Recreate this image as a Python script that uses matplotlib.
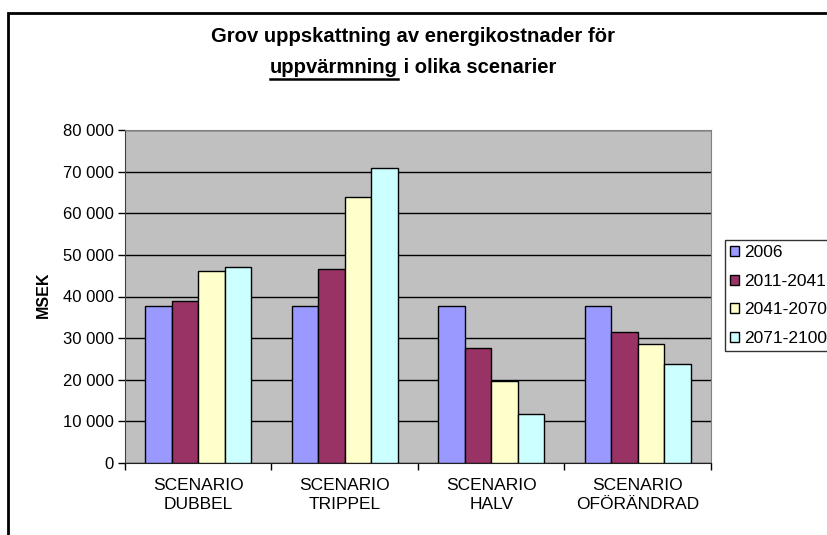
import matplotlib
matplotlib.use("Agg")
import matplotlib.pyplot as plt
import numpy as np
from matplotlib.patches import Rectangle
from matplotlib.lines import Line2D
from matplotlib.ticker import FuncFormatter

plt.rcParams['font.family'] = ['Liberation Sans', 'DejaVu Sans']

# data (MSEK)
scenarios = ['SCENARIO\nDUBBEL', 'SCENARIO\nTRIPPEL', 'SCENARIO\nHALV', 'SCENARIO\nOFÖRÄNDRAD']
periods = ['2006', '2011-2041', '2041-2070', '2071-2100']
v2006 = [37600, 37600, 37600, 37600]
v2011 = [38900, 46500, 27700, 31400]
v2041 = [46200, 64000, 19700, 28700]
v2071 = [47200, 70900, 11800, 23700]
colors = ['#9999FF', '#993366', '#FFFFCC', '#CCFFFF']

W, H = 828, 535
fig = plt.figure(figsize=(W / 100, H / 100), dpi=100)
ax = fig.add_axes([125 / W, 1 - 463 / H, (711 - 125) / W, (463 - 130) / H])
ax.set_facecolor('#C0C0C0')

x = np.arange(len(scenarios))
bw = 0.181
series = [v2006, v2011, v2041, v2071]
for i, vals in enumerate(series):
    ax.bar(x + (i - 1.5) * bw, vals, bw, color=colors[i], edgecolor='black',
           linewidth=1, label=periods[i], zorder=3)

ax.set_xlim(-0.5, 3.5)
ax.set_ylim(0, 80000)
ax.set_yticks(np.arange(0, 80001, 10000))
ax.yaxis.set_major_formatter(FuncFormatter(lambda v, p: f'{int(v):,}'.replace(',', ' ')))
ax.yaxis.grid(True, color='black', linewidth=1, zorder=1)
ax.set_axisbelow(True)

ax.set_xticks(x)
ax.set_xticklabels(scenarios, fontsize=12.5, linespacing=1.35)
ax.set_xticks(np.arange(-0.5, 3.6, 1), minor=True)
ax.tick_params(axis='x', which='major', length=0, pad=11)
ax.tick_params(axis='x', which='minor', length=5, direction='out', width=1)
ax.tick_params(axis='y', length=5, direction='out', width=1, labelsize=12, pad=3)

for s in ['top', 'right']:
    ax.spines[s].set_color('#808080')
ax.spines['left'].set_color('#404040')
ax.spines['bottom'].set_color('#202020')

fig.text(43 / W, 1 - 295 / H, 'MSEK', rotation=90, ha='center', va='center',
         fontsize=11.5, fontweight='bold')

leg = fig.legend(loc='upper left', bbox_to_anchor=(725 / W, 1 - 240 / H),
                 frameon=True, fancybox=False, fontsize=12.5, handlelength=0.5,
                 handleheight=0.5, handletextpad=0.3, labelspacing=0.78,
                 borderpad=0.3, borderaxespad=0)
leg.get_frame().set_edgecolor('black')
leg.get_frame().set_linewidth(1)

# title with an underlined word
cx = 413
tsize = 14.6
fig.text(cx / W, 1 - 42 / H, 'Grov uppskattning av energikostnader för', ha='center',
         va='baseline', fontsize=tsize, fontweight='bold')
renderer = fig.canvas.get_renderer()
ta = fig.text(0, 1 - 73 / H, 'uppvärmning', ha='left', va='baseline',
              fontsize=tsize, fontweight='bold')
tb = fig.text(0, 1 - 73 / H, ' i olika scenarier', ha='left', va='baseline',
              fontsize=tsize, fontweight='bold')
wa = ta.get_window_extent(renderer).width
wb = tb.get_window_extent(renderer).width
x0 = cx - (wa + wb) / 2
ta.set_x(x0 / W)
tb.set_x((x0 + wa) / W)
uy = 1 - 79 / H
fig.add_artist(Line2D([x0 / W, (x0 + wa) / W], [uy, uy], color='black', linewidth=1.8))

# chart border
fig.add_artist(Rectangle((8 / W, -0.1), 1.2, 1.1 - 13 / H, transform=fig.transFigure,
                         fill=False, edgecolor='black', linewidth=2, clip_on=False))

fig.savefig('out.png', dpi=100)
